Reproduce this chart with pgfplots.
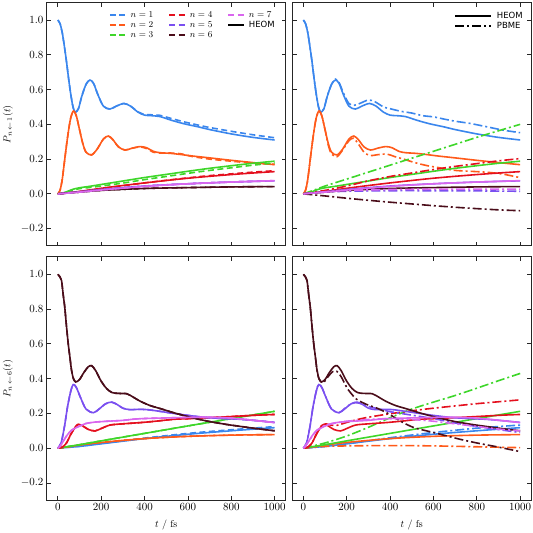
\documentclass[border=0pt]{standalone}
\usepackage{pgfplots}
\usepackage{pgfplotstable}
\pgfplotsset{compat=1.18}
\usepackage{fontspec}
\newfontfamily\dejavu{DejaVu Sans}
\definecolor{ca}{HTML}{3A86ED}
\definecolor{cb}{HTML}{FF5A1A}
\definecolor{cc}{HTML}{3ED62A}
\definecolor{cd}{HTML}{E4101E}
\definecolor{ce}{HTML}{7A4FF0}
\definecolor{cf}{HTML}{4A0D1A}
\definecolor{cg}{HTML}{D966EE}

% ---------------- top: initial site 1, HEOM ----------------
\pgfplotstableread{
x y
0 1.0
10 0.98
20 0.93
30 0.85
40 0.76
50 0.66
60 0.57
70 0.50
80 0.47
95 0.49
110 0.56
130 0.63
148 0.655
165 0.635
185 0.57
210 0.505
240 0.488
270 0.505
305 0.52
335 0.505
370 0.47
400 0.453
430 0.45
470 0.445
520 0.425
580 0.404
650 0.385
700 0.37
800 0.345
900 0.325
1000 0.31
}\hTa
\pgfplotstableread{
x y
0 0
10 0.02
20 0.08
30 0.18
40 0.28
50 0.37
60 0.44
72 0.477
85 0.45
100 0.37
115 0.29
130 0.24
155 0.224
180 0.255
210 0.315
233 0.333
255 0.31
280 0.27
310 0.252
340 0.262
380 0.272
410 0.265
440 0.245
470 0.237
520 0.233
570 0.226
620 0.218
700 0.207
800 0.193
900 0.18
1000 0.168
}\hTb
\pgfplotstableread{
x y
0 0
20 0.004
40 0.012
60 0.022
80 0.03
100 0.035
150 0.044
200 0.054
300 0.074
400 0.094
500 0.112
600 0.13
700 0.147
800 0.162
900 0.176
1000 0.188
}\hTc
\pgfplotstableread{
x y
0 0
50 0.006
100 0.014
200 0.032
300 0.048
400 0.063
500 0.077
600 0.09
700 0.101
800 0.111
900 0.12
1000 0.128
}\hTd
\pgfplotstableread{
x y
0 0
100 0.012
200 0.025
400 0.045
600 0.058
800 0.068
1000 0.075
}\hTe
\pgfplotstableread{
x y
0 0
100 0.01
200 0.02
400 0.031
600 0.036
800 0.04
1000 0.042
}\hTf
\pgfplotstableread{
x y
0 0
100 0.01
200 0.022
400 0.043
600 0.058
800 0.068
1000 0.076
}\hTg
% ---------------- top: dashed approximations ----------------
\pgfplotstableread{
x y
0 1.0
10 0.98
20 0.93
30 0.85
40 0.76
50 0.66
60 0.57
70 0.50
80 0.47
95 0.49
110 0.56
130 0.63
148 0.655
165 0.635
185 0.57
210 0.505
240 0.488
270 0.505
305 0.52
335 0.505
370 0.472
400 0.457
430 0.455
470 0.452
520 0.435
580 0.415
650 0.395
700 0.382
800 0.36
900 0.34
1000 0.323
}\aTa
\pgfplotstableread{
x y
0 0
10 0.02
20 0.08
30 0.18
40 0.28
50 0.37
60 0.44
72 0.477
85 0.45
100 0.37
115 0.29
130 0.24
155 0.224
180 0.255
210 0.315
233 0.333
255 0.31
280 0.27
310 0.252
340 0.262
380 0.27
410 0.26
440 0.24
470 0.235
520 0.235
570 0.23
620 0.215
700 0.2
800 0.188
900 0.177
1000 0.17
}\aTb
\pgfplotstableread{
x y
0 0
20 0.003
40 0.01
60 0.018
80 0.025
100 0.03
150 0.037
200 0.045
300 0.062
400 0.082
500 0.1
600 0.118
700 0.135
800 0.15
900 0.165
1000 0.178
}\aTc
\pgfplotstableread{
x y
0 0
50 0.005
100 0.013
200 0.03
300 0.047
400 0.063
500 0.078
600 0.092
700 0.105
800 0.115
900 0.125
1000 0.133
}\aTd
% ---------------- top: PBME ----------------
\pgfplotstableread{
x y
0 1.0
10 0.98
20 0.93
30 0.85
40 0.76
50 0.66
60 0.57
70 0.50
80 0.47
95 0.49
110 0.56
130 0.63
148 0.66
165 0.64
185 0.58
210 0.52
235 0.51
260 0.52
300 0.54
330 0.53
370 0.5
400 0.49
450 0.475
500 0.465
550 0.45
600 0.443
650 0.43
700 0.418
770 0.405
850 0.385
920 0.367
1000 0.352
}\pTa
\pgfplotstableread{
x y
0 0
10 0.02
20 0.08
30 0.18
40 0.28
50 0.37
60 0.44
72 0.477
85 0.45
100 0.37
115 0.28
130 0.23
155 0.214
180 0.25
210 0.305
231 0.32
255 0.285
280 0.24
308 0.22
340 0.225
385 0.229
420 0.215
462 0.2
500 0.185
538 0.172
580 0.16
615 0.153
692 0.136
769 0.13
850 0.124
923 0.113
1000 0.093
}\pTb
\pgfplotstableread{
x y
0 0
50 0.022
100 0.045
200 0.085
300 0.125
400 0.165
500 0.205
600 0.245
700 0.285
800 0.325
900 0.363
1000 0.40
}\pTc
\pgfplotstableread{
x y
0 0
100 0.02
200 0.045
300 0.075
400 0.1
500 0.12
600 0.14
700 0.158
800 0.174
900 0.19
1000 0.203
}\pTd
\pgfplotstableread{
x y
0 0
100 0.01
200 0.015
400 0.018
600 0.018
800 0.017
1000 0.015
}\pTe
\pgfplotstableread{
x y
0 0
100 -0.012
200 -0.025
300 -0.037
400 -0.048
500 -0.058
600 -0.068
700 -0.077
800 -0.085
900 -0.092
1000 -0.097
}\pTf
\pgfplotstableread{
x y
0 0
100 0.012
200 0.02
400 0.025
600 0.027
800 0.027
1000 0.027
}\pTg
% ---------------- bottom: initial site 6, HEOM ----------------
\pgfplotstableread{
x y
0 0
100 0.01
200 0.025
400 0.055
600 0.08
800 0.1
1000 0.118
}\hBa
\pgfplotstableread{
x y
0 0
50 0.008
100 0.018
200 0.033
400 0.055
600 0.068
800 0.075
1000 0.078
}\hBb
\pgfplotstableread{
x y
0 0
100 0.02
200 0.042
400 0.085
600 0.128
800 0.17
1000 0.212
}\hBc
\pgfplotstableread{
x y
0 0
20 0.005
40 0.03
60 0.08
80 0.12
94 0.137
115 0.128
140 0.108
171 0.099
200 0.113
241 0.133
300 0.14
380 0.147
450 0.155
534 0.166
610 0.17
688 0.175
770 0.18
843 0.185
920 0.19
1000 0.194
}\hBd
\pgfplotstableread{
x y
0 0
15 0.03
30 0.12
45 0.24
60 0.33
71 0.366
85 0.35
105 0.29
130 0.225
164 0.204
190 0.225
220 0.255
248 0.265
275 0.25
300 0.23
330 0.222
370 0.223
410 0.222
470 0.212
534 0.2
610 0.187
688 0.176
770 0.17
843 0.166
920 0.158
1000 0.148
}\hBe
\pgfplotstableread{
x y
0 1.0
10 0.985
17 0.965
25 0.88
32 0.81
40 0.7
48 0.6
56 0.52
63 0.45
72 0.4
83 0.381
100 0.395
120 0.435
140 0.468
156 0.474
175 0.445
200 0.385
225 0.343
250 0.32
280 0.315
318 0.313
350 0.292
380 0.27
426 0.245
480 0.225
534 0.204
611 0.178
688 0.156
770 0.138
843 0.125
920 0.112
1000 0.1
}\hBf
\pgfplotstableread{
x y
0 0
10 0.01
25 0.04
40 0.07
60 0.1
80 0.115
102 0.128
130 0.142
171 0.15
230 0.155
302 0.16
350 0.167
410 0.171
534 0.175
610 0.177
688 0.178
770 0.175
843 0.168
920 0.158
1000 0.147
}\hBg
\pgfplotstableread{
x y
0 0
100 0.011
200 0.027
400 0.058
600 0.085
800 0.106
1000 0.124
}\aBa
% ---------------- bottom: PBME ----------------
\pgfplotstableread{
x y
0 0
100 0.01
200 0.025
400 0.06
600 0.09
800 0.115
1000 0.133
}\pBa
\pgfplotstableread{
x y
0 0
50 0.006
100 0.01
200 0.013
400 0.015
600 0.013
800 0.008
1000 0.003
}\pBb
\pgfplotstableread{
x y
0 0
100 0.03
200 0.07
300 0.12
400 0.175
500 0.225
600 0.265
700 0.303
800 0.345
900 0.388
1000 0.43
}\pBc
\pgfplotstableread{
x y
0 0
20 0.005
40 0.03
60 0.08
80 0.125
100 0.14
120 0.135
150 0.13
200 0.148
250 0.165
300 0.178
400 0.198
500 0.215
600 0.23
700 0.243
800 0.256
900 0.267
1000 0.278
}\pBd
\pgfplotstableread{
x y
0 0
15 0.03
30 0.12
45 0.24
60 0.33
71 0.366
85 0.35
105 0.29
130 0.225
164 0.204
190 0.228
220 0.255
240 0.262
270 0.255
300 0.24
350 0.225
400 0.21
450 0.2
500 0.19
600 0.17
700 0.145
800 0.125
900 0.107
1000 0.09
}\pBe
\pgfplotstableread{
x y
0 1.0
10 0.985
17 0.965
25 0.88
32 0.81
40 0.7
48 0.6
56 0.52
63 0.45
72 0.4
90 0.375
110 0.405
135 0.44
155 0.442
175 0.41
200 0.35
217 0.32
247 0.28
293 0.251
330 0.235
370 0.213
410 0.185
447 0.156
493 0.127
524 0.113
600 0.09
723 0.051
800 0.03
900 0.006
1000 -0.02
}\pBf
\pgfplotstableread{
x y
0 0
25 0.04
60 0.1
100 0.13
150 0.145
200 0.155
300 0.165
400 0.17
500 0.165
600 0.155
700 0.14
800 0.125
900 0.11
1000 0.1
}\pBg

\pgfplotsset{
  base/.style={
    scale only axis, width=238.5pt, height=243.3pt,
    xmin=-50, xmax=1050, ymin=-0.3, ymax=1.1,
    xtick={0,200,400,600,800,1000},
    ytick={-0.2,0,0.2,0.4,0.6,0.8,1.0},
    tick align=inside, tick pos=both,
    major tick length=4pt,
    axis line style={line width=1pt, black!85},
    every tick/.style={line width=0.8pt, black!85},
    tick label style={font=\fontsize{11}{13}\selectfont},
    xlabel style={font=\fontsize{12}{14}\selectfont},
    ylabel style={font=\fontsize{13}{15}\selectfont},
    /pgf/number format/1000 sep={},
    yticklabel style={/pgf/number format/.cd, fixed, fixed zerofill, precision=1},
    every axis y label/.style={at={(axis description cs:-0.164,0.5)}, rotate=90, anchor=center},
    every axis x label/.style={at={(axis description cs:0.5,-0.1015)}, anchor=center},
    every axis plot/.append style={line width=1.6pt, smooth, tension=0.5},
    clip=true,
  },
  dsh/.style={dash pattern=on 6pt off 3.5pt},
  dd/.style={dash pattern=on 9pt off 3pt on 2pt off 3pt},
}

\begin{document}
\begin{tikzpicture}
\useasboundingbox (-47pt,-32.7pt) rectangle (486pt,500.3pt);

% ===== top left =====
\begin{axis}[base, at={(0pt,254.3pt)}, anchor=south west,
  xticklabels={}, ylabel={$P_{n\,\leftarrow\,1}(t)$},
  legend columns=3,
  legend style={draw=none, fill=none, at={(0.247,0.978)}, anchor=north west,
    font=\fontsize{9}{10}\selectfont,
    nodes={inner ysep=1.2pt},
    /tikz/every odd column/.append style={column sep=2pt},
    /tikz/every even column/.append style={column sep=13pt}},
  legend cell align=left,
  legend image code/.code={\draw[#1] (0pt,0pt) -- (16pt,0pt);}]
\addlegendimage{ca, line width=1.6pt, dsh}
\addlegendimage{cd, line width=1.6pt, dsh}
\addlegendimage{cg, line width=1.6pt, dsh}
\addlegendimage{cb, line width=1.6pt, dsh}
\addlegendimage{ce, line width=1.6pt, dsh}
\addlegendimage{black, line width=1.6pt}
\addlegendimage{cc, line width=1.6pt, dsh}
\addlegendimage{cf, line width=1.6pt, dsh}
\legend{$n=1$,$n=4$,$n=7$,$n=2$,$n=5$,{\dejavu\fontsize{8.5}{10}\selectfont HEOM},$n=3$,$n=6$}
\addplot[ca, forget plot] table {\hTa};
\addplot[ca, dsh, forget plot] table {\aTa};
\addplot[cb, forget plot] table {\hTb};
\addplot[cb, dsh, forget plot] table {\aTb};
\addplot[cc, forget plot] table {\hTc};
\addplot[cc, dsh, forget plot] table {\aTc};
\addplot[cd, forget plot] table {\hTd};
\addplot[cd, dsh, forget plot] table {\aTd};
\addplot[ce, forget plot] table {\hTe};
\addplot[ce, dsh, forget plot] table {\hTe};
\addplot[cf, forget plot] table {\hTf};
\addplot[cf, dsh, forget plot] table {\hTf};
\addplot[cg, forget plot] table {\hTg};
\addplot[cg, dsh, forget plot] table {\hTg};
\end{axis}

% ===== top right =====
\begin{axis}[base, at={(245.5pt,254.3pt)}, anchor=south west,
  xticklabels={}, yticklabels={},
  legend style={draw=none, fill=none, at={(0.987,0.976)}, anchor=north east,
    font=\fontsize{8.5}{10}\selectfont, nodes={inner ysep=1.2pt},
    /tikz/every odd column/.append style={column sep=3pt}},
  legend cell align=left,
  legend image code/.code={\draw[#1] (0pt,0pt) -- (36pt,0pt);}]
\addlegendimage{black, line width=1.6pt}
\addlegendimage{black, line width=1.6pt, dd}
\legend{{\dejavu HEOM},{\dejavu PBME}}
\addplot[ca, forget plot] table {\hTa};
\addplot[ca, dd, forget plot] table {\pTa};
\addplot[cb, forget plot] table {\hTb};
\addplot[cb, dd, forget plot] table {\pTb};
\addplot[cc, forget plot] table {\hTc};
\addplot[cc, dd, forget plot] table {\pTc};
\addplot[cd, forget plot] table {\hTd};
\addplot[cd, dd, forget plot] table {\pTd};
\addplot[ce, forget plot] table {\hTe};
\addplot[ce, dd, forget plot] table {\pTe};
\addplot[cf, forget plot] table {\hTf};
\addplot[cf, dd, forget plot] table {\pTf};
\addplot[cg, forget plot] table {\hTg};
\addplot[cg, dd, forget plot] table {\pTg};
\end{axis}

% ===== bottom left =====
\begin{axis}[base, at={(0pt,0pt)}, anchor=south west,
  ylabel={$P_{n\,\leftarrow\,6}(t)$}, xlabel={$t$ / fs}]
\addplot[ca] table {\hBa};
\addplot[ca, dsh] table {\aBa};
\addplot[cb] table {\hBb};
\addplot[cb, dsh] table {\hBb};
\addplot[cc] table {\hBc};
\addplot[cc, dsh] table {\hBc};
\addplot[cd] table {\hBd};
\addplot[cd, dsh] table {\hBd};
\addplot[ce] table {\hBe};
\addplot[ce, dsh] table {\hBe};
\addplot[cf] table {\hBf};
\addplot[cf, dsh] table {\hBf};
\addplot[cg] table {\hBg};
\addplot[cg, dsh] table {\hBg};
\end{axis}

% ===== bottom right =====
\begin{axis}[base, at={(245.5pt,0pt)}, anchor=south west,
  yticklabels={}, xlabel={$t$ / fs}]
\addplot[ca] table {\hBa};
\addplot[ca, dd] table {\pBa};
\addplot[cb] table {\hBb};
\addplot[cb, dd] table {\pBb};
\addplot[cc] table {\hBc};
\addplot[cc, dd] table {\pBc};
\addplot[cd] table {\hBd};
\addplot[cd, dd] table {\pBd};
\addplot[ce] table {\hBe};
\addplot[ce, dd] table {\pBe};
\addplot[cf] table {\hBf};
\addplot[cf, dd] table {\pBf};
\addplot[cg] table {\hBg};
\addplot[cg, dd] table {\pBg};
\end{axis}
\end{tikzpicture}
\end{document}
